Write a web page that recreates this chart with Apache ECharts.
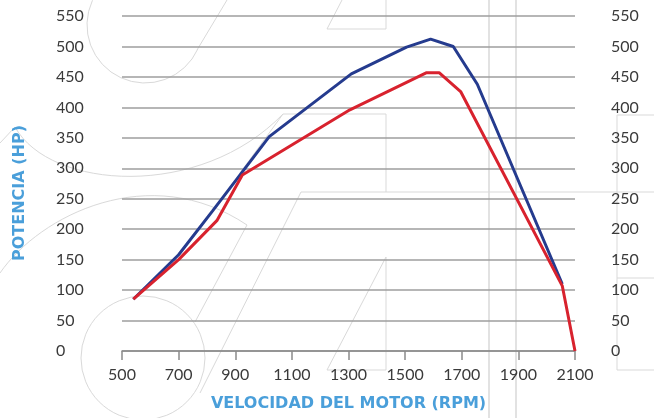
<!DOCTYPE html>
<html>
<head>
<meta charset="utf-8">
<script src="https://cdn.jsdelivr.net/npm/echarts@6/dist/echarts.min.js"></script>
<style>
  html, body { margin: 0; padding: 0; background: #fff; }
  #chart-container { width: 654px; height: 418px; }
</style>
</head>
<body>
<div id="chart-container"></div>
<script>
var dom = document.getElementById("chart-container");
var myChart = echarts.init(dom, null, { renderer: "canvas" });

// curva azul
var rpmAzul = [540, 700, 820, 1020, 1310, 1505, 1590, 1670, 1755, 2055];
var hpAzul = [85, 158, 230, 352, 455, 499, 512, 500, 438, 110];
// curva roja
var rpmRojo = [540, 700, 835, 925, 1305, 1576, 1620, 1696, 2055, 2100];
var hpRojo = [85, 150, 214, 289, 396, 457, 457, 426, 107, 0];

var xTicks = { min: 500, max: 2100, interval: 200 };
var yTicks = { min: 0, max: 550, interval: 50 };

function pares(xs, ys) {
  return xs.map(function (x, i) { return [x, ys[i]]; });
}

var gris = "#d9d9d9";
function linea(x1, y1, x2, y2, w) {
  return { type: "line", silent: true, z: -10,
    shape: { x1: x1, y1: y1, x2: x2, y2: y2 },
    style: { stroke: gris, lineWidth: w || 1 } };
}
function curva(x1, y1, cx1, cy1, cx2, cy2, x2, y2) {
  return { type: "bezierCurve", silent: true, z: -10,
    shape: { x1: x1, y1: y1, cpx1: cx1, cpy1: cy1, cpx2: cx2, cpy2: cy2, x2: x2, y2: y2 },
    style: { stroke: gris, fill: null, lineWidth: 1 } };
}
function circulo(cx, cy, r) {
  return { type: "circle", silent: true, z: -10,
    shape: { cx: cx, cy: cy, r: r },
    style: { stroke: gris, fill: null, lineWidth: 1 } };
}
function arco(cx, cy, r, a0, a1) {
  return { type: "arc", silent: true, z: -10,
    shape: { cx: cx, cy: cy, r: r, startAngle: a0, endAngle: a1, clockwise: true },
    style: { stroke: gris, fill: null, lineWidth: 1 } };
}

// adorno de fondo
var fondo = [
  linea(489, 0, 489, 418, 1.5),
  linea(516, 0, 516, 418, 1.5),
  arco(145, 25, 58, 0.43, Math.PI + 0.45),
  linea(197, 50, 227, 0),
  linea(0, 143, 15, 127),
  curva(15, 127, 50, 190, 200, 200, 283, 114),
  linea(283, 114, 240, 173),
  linea(283, 114, 386, 114),
  linea(386, 114, 386, 192),
  linea(301, 192, 654, 192),
  linea(301, 192, 200, 393),
  linea(342, 0, 327, 29),
  linea(327, 29, 386, 29),
  linea(386, 29, 386, 0),
  curva(0, 273, 40, 215, 150, 160, 247, 225),
  linea(247, 225, 195, 322),
  circulo(143, 358, 62),
  linea(386, 257, 327, 370),
  linea(327, 370, 386, 370),
  linea(386, 257, 386, 370),
  linea(617, 115, 654, 115),
  linea(617, 115, 617, 370),
  linea(617, 278, 654, 278),
  linea(617, 370, 654, 370)
];

fondo.push({
  type: "text",
  x: 20,
  y: 193,
  rotation: Math.PI / 2,
  style: {
    text: "POTENCIA (HP)",
    fill: "#4a9fda",
    font: "bold 16px 'DejaVu Sans'",
    align: "center",
    verticalAlign: "middle"
  }
});

var etiqueta = { color: "#3a3a3a", fontFamily: "Lato", fontSize: 16 };

var option = {
  animation: false,
  backgroundColor: "#fff",
  graphic: fondo,
  grid: { left: 122, right: 79, top: 16, bottom: 67, containLabel: false, outerBoundsMode: "none" },
  xAxis: {
    type: "value",
    min: xTicks.min,
    max: xTicks.max,
    interval: xTicks.interval,
    name: "VELOCIDAD DEL MOTOR (RPM)",
    nameLocation: "middle",
    nameGap: 45,
    nameTextStyle: { color: "#4a9fda", fontFamily: "DejaVu Sans", fontWeight: "bold", fontSize: 16 },
    axisLine: { lineStyle: { color: "#8a8a8a", width: 1.5 } },
    axisTick: { show: true, inside: false, length: 9, lineStyle: { color: "#8a8a8a", width: 1.5 } },
    axisLabel: Object.assign({ margin: 16, formatter: function (v) { return String(v); } }, etiqueta),
    splitLine: { show: false }
  },
  yAxis: [
    {
      type: "value",
      position: "left",
      min: yTicks.min,
      max: yTicks.max,
      interval: yTicks.interval,
      axisLine: { show: false },
      axisTick: { show: false },
      axisLabel: Object.assign({ align: "left", margin: 66 }, etiqueta),
      splitLine: { lineStyle: { color: "#9e9e9e", width: 1.5 } }
    },
    {
      type: "value",
      position: "right",
      min: yTicks.min,
      max: yTicks.max,
      interval: yTicks.interval,
      axisLine: { show: false },
      axisTick: { show: false },
      axisLabel: Object.assign({ align: "left", margin: 36 }, etiqueta),
      splitLine: { show: false }
    }
  ],
  series: [
    {
      type: "line",
      data: pares(rpmAzul, hpAzul),
      showSymbol: false,
      symbol: "none",
      lineStyle: { color: "#253b8e", width: 3 },
      z: 3
    },
    {
      type: "line",
      data: pares(rpmRojo, hpRojo),
      showSymbol: false,
      symbol: "none",
      lineStyle: { color: "#d8222e", width: 3 },
      z: 4
    }
  ]
};

myChart.setOption(option);
window.addEventListener("resize", myChart.resize);
</script>
</body>
</html>
